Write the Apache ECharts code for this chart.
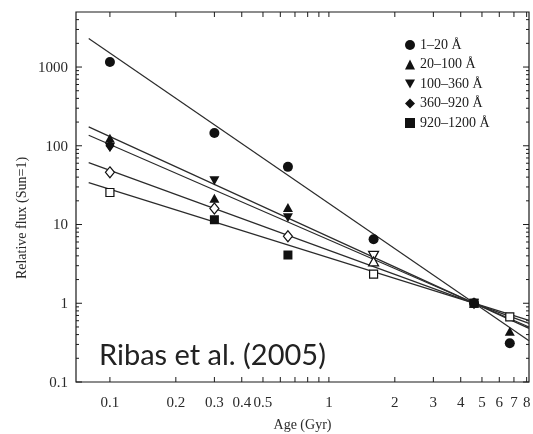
<!DOCTYPE html>
<html><head><meta charset="utf-8">
<script src="https://cdn.jsdelivr.net/npm/echarts@6/dist/echarts.min.js"></script>
<style>html,body{margin:0;padding:0;background:#fff}#c{width:533px;height:434px}</style>
</head><body><div id="c"></div>
<script>
// ---------------- data ----------------
const bandNames = ['1–20 Å', '20–100 Å', '100–360 Å', '360–920 Å', '920–1200 Å'];

// filled symbols: [age (Gyr), relative flux]
const band1Points = [[0.1, 1160], [0.3, 145], [0.65, 54], [1.6, 6.5], [4.6, 1], [6.7, 0.31]];
const band2Points = [[0.1, 125], [0.3, 21.5], [0.65, 16.5], [4.6, 1], [6.7, 0.44]];
const band3Points = [[0.1, 95], [0.3, 36], [0.65, 12.2], [4.6, 1]];
const band4Points = [[0.1, 100], [4.6, 1]];
const band5Points = [[0.3, 11.5], [0.65, 4.1], [4.6, 1]];

// open symbols
const openDiamondPoints = [[0.1, 46], [0.3, 16], [0.65, 7.1]];
const openSquarePoints = [[0.1, 25.5], [1.6, 2.35], [6.7, 0.67]];
const openInvTrianglePoints = [[1.6, 4.0]];
const openTrianglePoints = [[1.6, 3.4]];

// power-law fit lines (end points)
const fitBand1 = [[0.08, 2300], [8.2, 0.335]];
const fitBand2 = [[0.08, 174], [8.2, 0.48]];
const fitBand3 = [[0.08, 136], [8.2, 0.50]];
const fitBand4 = [[0.08, 61], [8.2, 0.556]];
const fitBand5 = [[0.08, 34], [8.2, 0.605]];

// axes
const xRange = [0.07, 8.2];
const yRange = [0.1, 5000];
const xTickValues = [0.1, 0.2, 0.3, 0.4, 0.5, 0.6, 0.7, 0.8, 0.9, 1, 2, 3, 4, 5, 6, 7, 8];
const xTickLabels = ['0.1', '0.2', '0.3', '0.4', '0.5', '', '', '', '', '1', '2', '3', '4', '5', '6', '7', '8'];
const yMajorTicks = [0.1, 1, 10, 100, 1000];
const yMajorLabels = ['0.1', '1', '10', '100', '1000'];
const yMinorTicks = [0.2, 0.3, 0.4, 0.5, 0.6, 0.7, 0.8, 0.9,
  2, 3, 4, 5, 6, 7, 8, 9,
  20, 30, 40, 50, 60, 70, 80, 90,
  200, 300, 400, 500, 600, 700, 800, 900,
  2000, 3000, 4000];

const xTitle = 'Age (Gyr)';
const yTitle = 'Relative flux (Sun=1)';
const credit = 'Ribas et al. (2005)';

// ---------------- chart ----------------
const SERIF = '"Liberation Serif", "DejaVu Serif", serif';
const INK = '#1a1a1a';
const INV_TRI = 'path://M0,0L10,0L5,9Z';

const chart = echarts.init(document.getElementById('c'), null, {renderer: 'canvas'});

function xTickRender(params, api) {
  const cs = params.coordSys;
  const p = api.coord([api.value(0), yRange[0]]);
  const x = p[0], bottom = cs.y + cs.height, top = cs.y;
  const lbl = xTickLabels[params.dataIndex];
  const children = [
    {type: 'line', shape: {x1: x, y1: bottom, x2: x, y2: bottom - 5}, style: {stroke: INK, lineWidth: 1}},
    {type: 'line', shape: {x1: x, y1: top, x2: x, y2: top + 5}, style: {stroke: INK, lineWidth: 1}}
  ];
  if (lbl) {
    children.push({type: 'text', style: {text: lbl, x: x, y: bottom + 21, align: 'center', verticalAlign: 'middle',
      fontFamily: SERIF, fontSize: 15, fill: '#2a2a2a'}});
  }
  return {type: 'group', children: children};
}

function yTickRender(labels, len) {
  return function (params, api) {
    const cs = params.coordSys;
    const p = api.coord([xRange[0], api.value(1)]);
    const y = p[1], left = cs.x, right = cs.x + cs.width;
    const children = [
      {type: 'line', shape: {x1: left, y1: y, x2: left + len, y2: y}, style: {stroke: INK, lineWidth: 1}},
      {type: 'line', shape: {x1: right, y1: y, x2: right - len, y2: y}, style: {stroke: INK, lineWidth: 1}}
    ];
    if (labels) {
      children.push({type: 'text', style: {text: labels[params.dataIndex], x: left - 8, y: y + 1, align: 'right',
        verticalAlign: 'middle', fontFamily: SERIF, fontSize: 15, fill: '#2a2a2a'}});
    }
    return {type: 'group', children: children};
  };
}

function fitLine(data) {
  return {type: 'line', data: data, symbol: 'none', silent: true, z: 2,
    lineStyle: {color: '#2b2b2b', width: 1.2}, clip: true};
}
function filled(name, data, symbol, size) {
  return {name: name, type: 'scatter', data: data, symbol: symbol, symbolSize: size, z: 4,
    itemStyle: {color: '#111', opacity: 1}};
}
function open(data, symbol, size) {
  return {type: 'scatter', data: data, symbol: symbol, symbolSize: size, z: 3,
    itemStyle: {color: '#fff', borderColor: '#111', borderWidth: 1.2, opacity: 1}};
}

const option = {
  animation: false,
  backgroundColor: '#fff',
  grid: {left: 76, right: 4, top: 12, bottom: 52, show: true, borderColor: INK, borderWidth: 1.2,
    containLabel: false, outerBoundsMode: 'none'},
  xAxis: {type: 'log', logBase: 10, min: xRange[0], max: xRange[1],
    axisLine: {show: false}, axisTick: {show: false}, axisLabel: {show: false}, splitLine: {show: false},
    name: xTitle, nameLocation: 'middle', nameGap: 36,
    nameTextStyle: {fontFamily: SERIF, fontSize: 14, color: '#2a2a2a'}},
  yAxis: {type: 'log', logBase: 10, min: yRange[0], max: yRange[1],
    axisLine: {show: false}, axisTick: {show: false}, axisLabel: {show: false}, splitLine: {show: false}},
  legend: {
    orient: 'vertical', left: 400, top: 33, itemWidth: 10, itemHeight: 10, itemGap: 5.5,
    textStyle: {fontFamily: SERIF, fontSize: 14, color: INK},
    data: [
      {name: bandNames[0], icon: 'circle'},
      {name: bandNames[1], icon: 'triangle'},
      {name: bandNames[2], icon: INV_TRI},
      {name: bandNames[3], icon: 'diamond'},
      {name: bandNames[4], icon: 'rect'}
    ],
    selectedMode: false
  },
  graphic: [
    {type: 'text', x: 99, y: 356, style: {text: credit, fontFamily: 'Lato, "Open Sans", sans-serif', fontSize: 29,
      fill: '#222', verticalAlign: 'middle'}},
    {type: 'text', x: 22, y: 218, rotation: Math.PI / 2, style: {text: yTitle, fontFamily: SERIF, fontSize: 14,
      fill: '#2a2a2a', align: 'center', verticalAlign: 'middle'}}
  ],
  series: [
    {type: 'custom', data: xTickValues.map(v => [v, yRange[0]]), renderItem: xTickRender, clip: false, silent: true, z: 1},
    {type: 'custom', data: yMajorTicks.map(v => [xRange[0], v]), renderItem: yTickRender(yMajorLabels, 6), clip: false, silent: true, z: 1},
    {type: 'custom', data: yMinorTicks.map(v => [xRange[0], v]), renderItem: yTickRender(null, 3), clip: false, silent: true, z: 1},
    fitLine(fitBand1), fitLine(fitBand2), fitLine(fitBand3), fitLine(fitBand4), fitLine(fitBand5),
    open(openDiamondPoints, 'diamond', [9, 11]),
    open(openSquarePoints, 'rect', 8),
    open(openInvTrianglePoints, INV_TRI, [10, 9]),
    open(openTrianglePoints, 'triangle', [10, 9]),
    filled(bandNames[0], band1Points, 'circle', 10),
    filled(bandNames[1], band2Points, 'triangle', [10, 9]),
    filled(bandNames[2], band3Points, INV_TRI, [10, 9]),
    filled(bandNames[3], band4Points, 'diamond', [9, 12]),
    filled(bandNames[4], band5Points, 'rect', 9)
  ]
};
chart.setOption(option);
</script>
</body></html>
